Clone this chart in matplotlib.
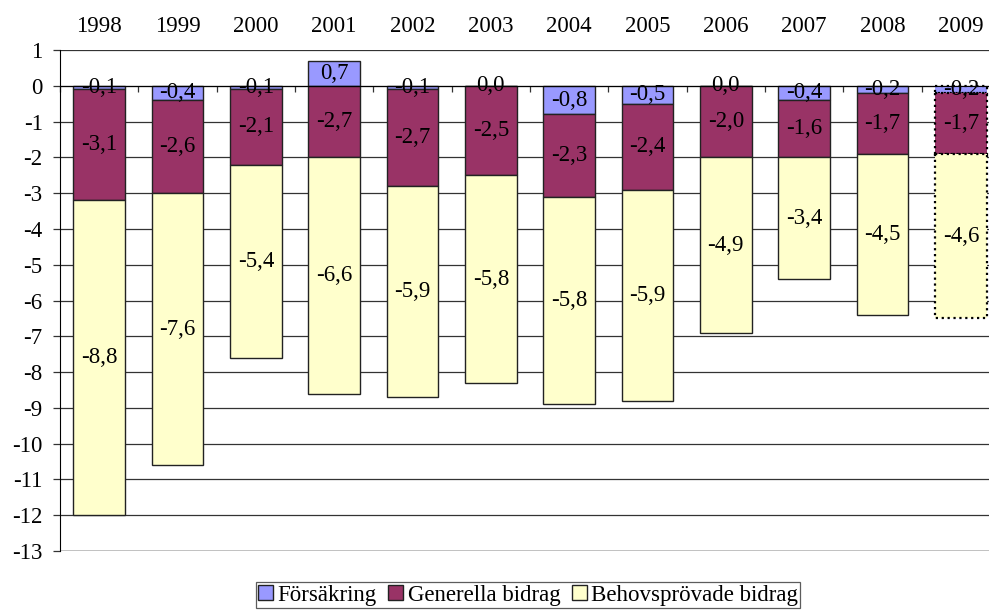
import matplotlib
matplotlib.use('Agg')
import matplotlib.pyplot as plt
import matplotlib.transforms as mtransforms
import numpy as np

# Data
years = ['1998', '1999', '2000', '2001', '2002', '2003',
         '2004', '2005', '2006', '2007', '2008', '2009']
forsakring = [-0.1, -0.4, -0.1, 0.7, -0.1, 0.0, -0.8, -0.5, 0.0, -0.4, -0.2, -0.2]
generella = [-3.1, -2.6, -2.1, -2.7, -2.7, -2.5, -2.3, -2.4, -2.0, -1.6, -1.7, -1.7]
behov = [-8.8, -7.6, -5.4, -6.6, -5.9, -5.8, -5.8, -5.9, -4.9, -3.4, -4.5, -4.6]
names = ['Försäkring', 'Generella bidrag', 'Behovsprövade bidrag']
colors = ['#9999FF', '#993366', '#FFFFCC']

plt.rcParams['font.family'] = ['Liberation Serif', 'DejaVu Serif']
fs = 16.5

fig = plt.figure(figsize=(9.89, 6.10), dpi=100)
ax = fig.add_axes([60 / 989, 59 / 610, 940 / 989, 501 / 610])

x = np.arange(len(years))
f = np.array(forsakring)
g = np.array(generella)
b = np.array(behov)

# old-style cumulative stacking (the positive segment does not push the rest down)
g_bot = np.minimum(f, 0)
g_top = f + g
b_top = g_top + b


def lab(v):
    return ('%.1f' % v).replace('.', ',')


w = 0.66
bars = []
for i in range(len(years)):
    ls = ':' if years[i] == '2009' else '-'
    lw = 1.6 if years[i] == '2009' else 1.0
    ec = '#000000' if years[i] == '2009' else '#222222'
    r1 = ax.bar(x[i], f[i], w, bottom=0, color=colors[0], edgecolor=ec, linewidth=lw, linestyle=ls, zorder=3)
    r2 = ax.bar(x[i], g_top[i] - g_bot[i], w, bottom=g_bot[i], color=colors[1], edgecolor=ec, linewidth=lw, linestyle=ls, zorder=3)
    r3 = ax.bar(x[i], b_top[i] - g_top[i], w, bottom=g_top[i], color=colors[2], edgecolor=ec, linewidth=lw, linestyle=ls, zorder=3)
    if i == 0:
        bars = [r1, r2, r3]

    ax.text(x[i], f[i] / 2, lab(f[i]), ha='center', va='center', fontsize=fs, zorder=5)
    ax.text(x[i], (g_bot[i] + g_top[i]) / 2, lab(g[i]), ha='center', va='center', fontsize=fs, zorder=5)
    ax.text(x[i], (g_top[i] + b_top[i]) / 2, lab(b[i]), ha='center', va='center', fontsize=fs, zorder=5)

ax.set_xlim(-0.5, len(years) - 0.5)
ax.set_ylim(-13, 1)
ax.set_yticks(np.arange(-13, 2))
ax.set_yticklabels([str(v) for v in range(-13, 2)], fontsize=fs)
ax.yaxis.grid(True, color='#333333', linewidth=0.9, zorder=0)
ax.set_axisbelow(True)

# category axis crosses at zero, ticks between categories
ax.spines['bottom'].set_position(('data', 0))
ax.spines['bottom'].set_zorder(4)
ax.spines['right'].set_visible(False)
ax.spines['top'].set_visible(False)
ax.set_xticks(np.arange(-0.5, len(years), 1.0))
ax.set_xticklabels([])
ax.tick_params(axis='x', direction='out', length=4.5, width=0.9, color='#333333')
ax.tick_params(axis='y', direction='out', length=5, width=0.9, color='#333333', pad=7.5)
ax.axhline(-13, color='#333333', linewidth=1.0, zorder=1)

# year labels above the plot
trans = mtransforms.blended_transform_factory(ax.transData, ax.transAxes)
for i in range(len(years)):
    ax.text(x[i], 1 + 23 / 501, years[i], transform=trans, ha='center', va='center', fontsize=fs)

leg = fig.legend(bars, names, loc='center', bbox_to_anchor=(528 / 989, 15 / 610), ncol=3,
                 fontsize=fs, frameon=True, fancybox=False, edgecolor='#333333',
                 handlelength=0.65, handleheight=0.65, handletextpad=0.2, columnspacing=0.5,
                 borderpad=0.1, borderaxespad=0)
leg.get_frame().set_linewidth(0.9)

fig.savefig('out.png', dpi=100)
